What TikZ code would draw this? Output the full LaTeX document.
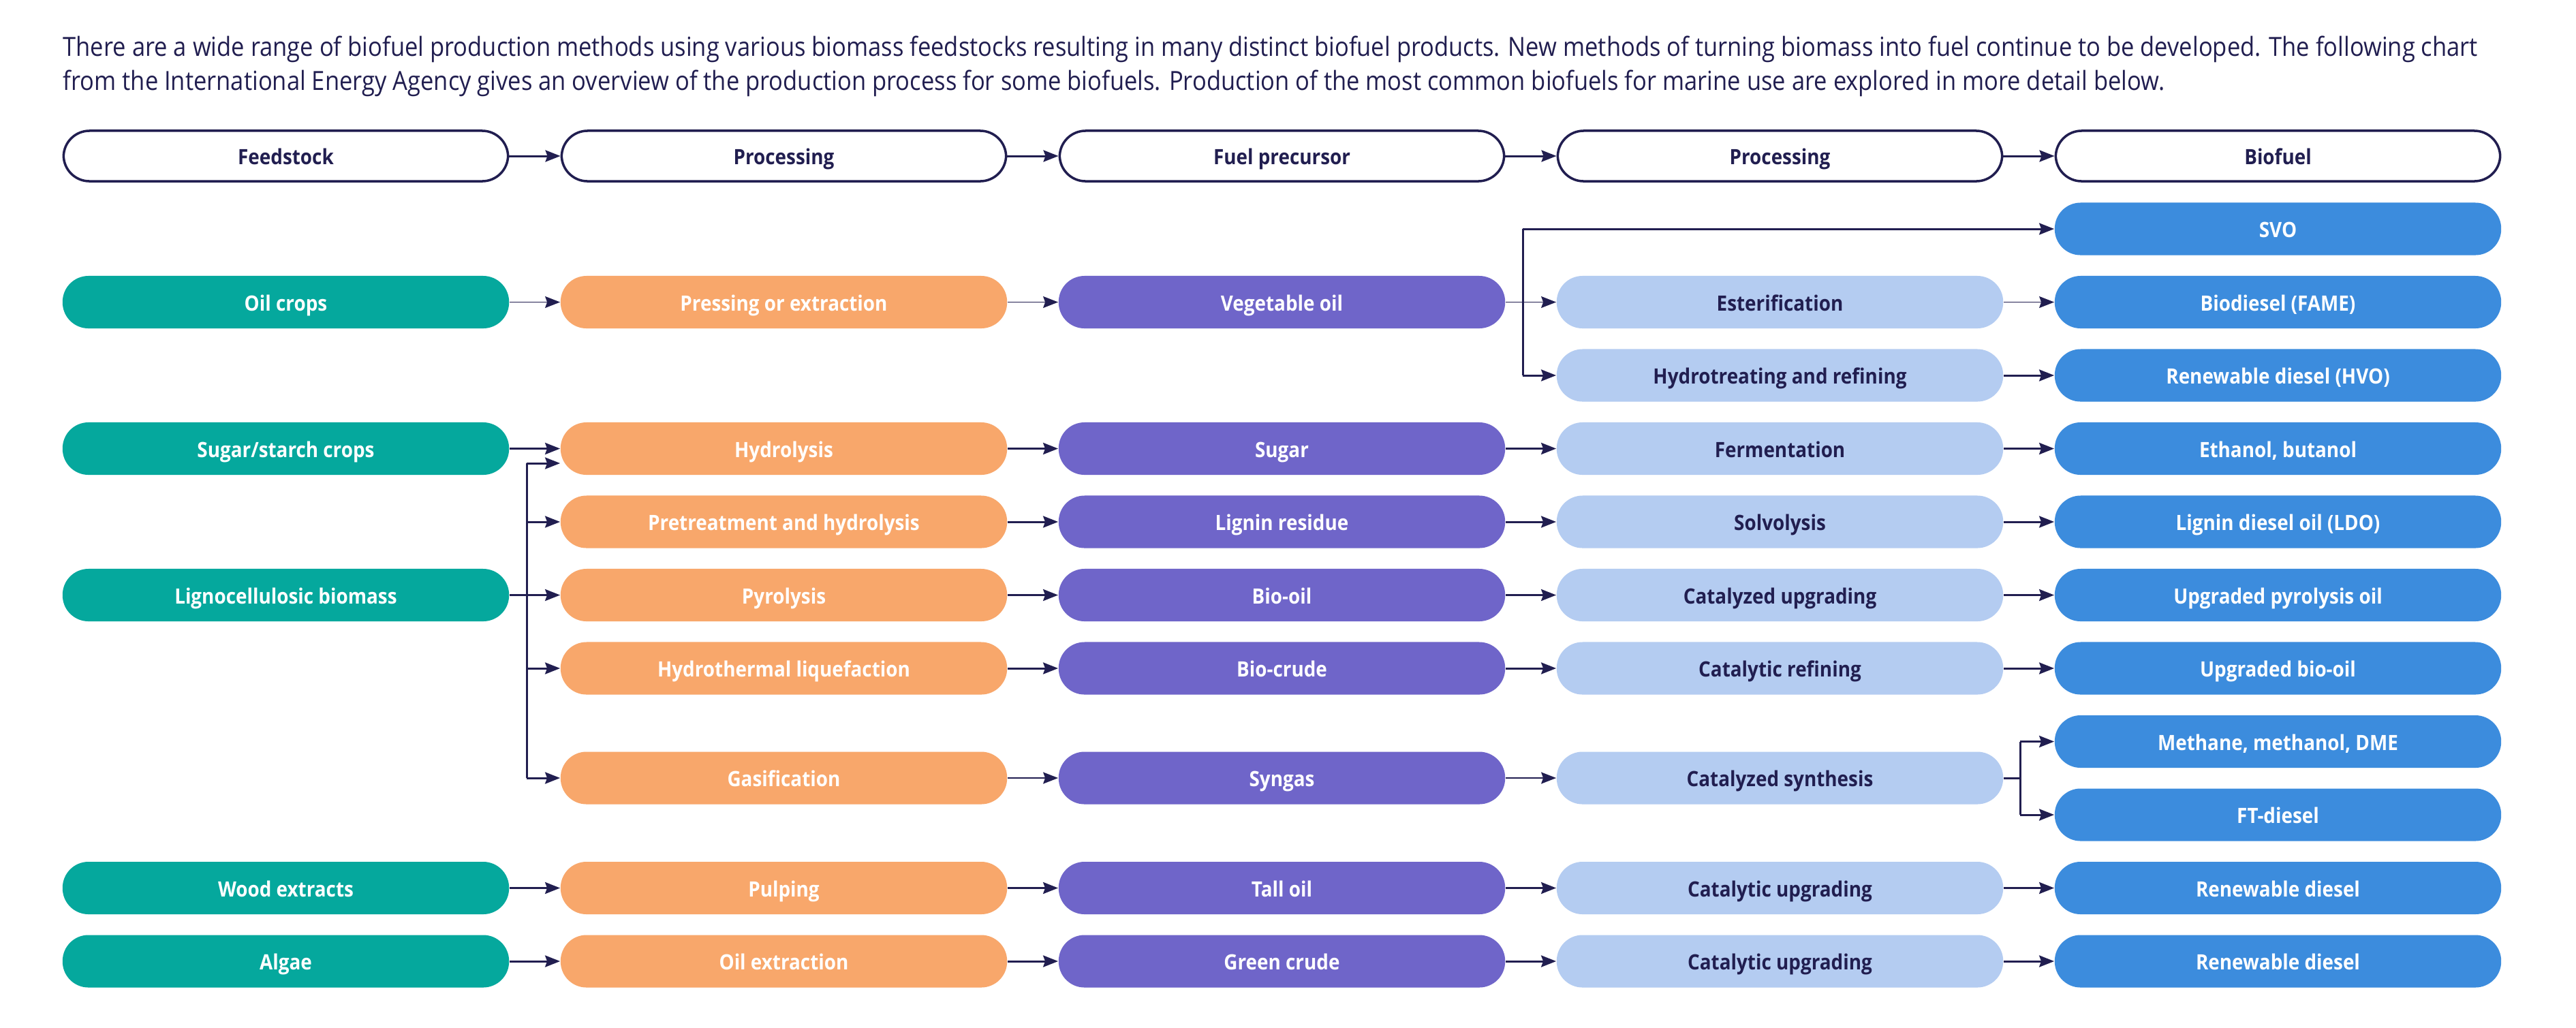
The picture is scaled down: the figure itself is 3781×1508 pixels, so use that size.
\documentclass[tikz,border=0pt]{standalone}
\usepackage{fontspec}
\setmainfont{Open Sans}[FakeStretch=0.9]
\newfontfamily\bodyfont{Open Sans}[FakeStretch=0.892]
\usetikzlibrary{arrows.meta}
\definecolor{navy}{HTML}{211E50}
\definecolor{cteal}{HTML}{05A89D}
\definecolor{corange}{HTML}{F8A76B}
\definecolor{cpurple}{HTML}{6F65C9}
\definecolor{clight}{HTML}{B4CCF1}
\definecolor{cblue}{HTML}{3C8CDD}
\tikzset{
  box/.style={rectangle, rounded corners=0.38cm, minimum width=6.55cm, minimum height=0.77cm,
    inner sep=0pt, text height=0.714em, text depth=0pt, font=\bfseries\fontsize{8.8}{10.5}\selectfont},
  hdr/.style={box, draw=navy, line width=1pt, fill=white, text=navy, minimum width=6.52cm, minimum height=0.74cm},
  feed/.style={box, fill=cteal, text=white},
  proc/.style={box, fill=corange, text=white},
  prec/.style={box, fill=cpurple, text=white},
  proc2/.style={box, fill=clight, text=navy},
  fuel/.style={box, fill=cblue, text=white},
  arr/.style={-{Stealth[length=0.22cm,width=0.17cm,inset=0.03cm]}, draw=navy, line width=0.85pt},
  thinarr/.style={arr, line width=0.45pt},
  plain/.style={draw=navy, line width=0.85pt},
}
\begin{document}
\begin{tikzpicture}[x=0.01cm,y=-0.01cm]
\useasboundingbox[fill=white] (0,0) rectangle (3781,1508);
\node[anchor=north west, inner sep=0pt, align=left, text=navy, font=\bodyfont\fontsize{11}{14.2}\selectfont] (intro) at (92,52)
{There are a wide range of biofuel production methods using various biomass feedstocks resulting in many distinct biofuel products. New methods of turning biomass into fuel continue to be developed. The following chart\\
from the International Energy Agency gives an overview of the production process for some biofuels. Production of the most common biofuels for marine use are explored in more detail below.};

% headers
\node[hdr] (h1) at (419.5,229) {Feedstock};
\node[hdr] (h2) at (1150.5,229) {Processing};
\node[hdr] (h3) at (1881.5,229) {Fuel precursor};
\node[hdr] (h4) at (2612.5,229) {Processing};
\node[hdr] (h5) at (3343.5,229) {Biofuel};

% column 1
\node[feed] (oil) at (419.5,443.5) {Oil crops};
\node[feed] (sug) at (419.5,658.5) {Sugar/starch crops};
\node[feed] (lig) at (419.5,873.5) {Lignocellulosic biomass};
\node[feed] (wood) at (419.5,1303.5) {Wood extracts};
\node[feed] (alg) at (419.5,1411) {Algae};

% column 2
\node[proc] (press) at (1150.5,443.5) {Pressing or extraction};
\node[proc] (hyd) at (1150.5,658.5) {Hydrolysis};
\node[proc] (pre) at (1150.5,766) {Pretreatment and hydrolysis};
\node[proc] (pyr) at (1150.5,873.5) {Pyrolysis};
\node[proc] (htl) at (1150.5,981) {Hydrothermal liquefaction};
\node[proc] (gas) at (1150.5,1142) {Gasification};
\node[proc] (pulp) at (1150.5,1303.5) {Pulping};
\node[proc] (oilx) at (1150.5,1411) {Oil extraction};

% column 3
\node[prec] (veg) at (1881.5,443.5) {Vegetable oil};
\node[prec] (sugar) at (1881.5,658.5) {Sugar};
\node[prec] (lres) at (1881.5,766) {Lignin residue};
\node[prec] (biooil) at (1881.5,873.5) {Bio-oil};
\node[prec] (biocrude) at (1881.5,981) {Bio-crude};
\node[prec] (syn) at (1881.5,1142) {Syngas};
\node[prec] (tall) at (1881.5,1303.5) {Tall oil};
\node[prec] (green) at (1881.5,1411) {Green crude};

% column 4
\node[proc2] (est) at (2612.5,443.5) {Esterification};
\node[proc2] (hydt) at (2612.5,551) {Hydrotreating and refining};
\node[proc2] (ferm) at (2612.5,658.5) {Fermentation};
\node[proc2] (solv) at (2612.5,766) {Solvolysis};
\node[proc2] (cup) at (2612.5,873.5) {Catalyzed upgrading};
\node[proc2] (cref) at (2612.5,981) {Catalytic refining};
\node[proc2] (csyn) at (2612.5,1142) {Catalyzed synthesis};
\node[proc2] (cupw) at (2612.5,1303.5) {Catalytic upgrading};
\node[proc2] (cupa) at (2612.5,1411) {Catalytic upgrading};

% column 5
\node[fuel] (svo) at (3343.5,336) {SVO};
\node[fuel] (fame) at (3343.5,443.5) {Biodiesel (FAME)};
\node[fuel] (hvo) at (3343.5,551) {Renewable diesel (HVO)};
\node[fuel] (eth) at (3343.5,658.5) {Ethanol, butanol};
\node[fuel] (ldo) at (3343.5,766) {Lignin diesel oil (LDO)};
\node[fuel] (upo) at (3343.5,873.5) {Upgraded pyrolysis oil};
\node[fuel] (ubo) at (3343.5,981) {Upgraded bio-oil};
\node[fuel] (meth) at (3343.5,1088.5) {Methane, methanol, DME};
\node[fuel] (ftd) at (3343.5,1196) {FT-diesel};
\node[fuel] (rdw) at (3343.5,1303.5) {Renewable diesel};
\node[fuel] (rda) at (3343.5,1411) {Renewable diesel};

% header arrows
\draw[arr] (h1) -- (h2);
\draw[arr] (h2) -- (h3);
\draw[arr] (h3) -- (h4);
\draw[arr] (h4) -- (h5);

% oil crops row
\draw[thinarr] (oil) -- (press);
\draw[thinarr] (press) -- (veg);
\draw[thinarr] (veg) -- (est);
\draw[thinarr] (est) -- (fame);
\coordinate (vt) at (2235,336);
\coordinate (vb) at (2235,551);
\draw[plain] (vt) -- (vb);
\draw[arr] (vt) -- (svo);
\draw[arr] (vb) -- (hydt);
\draw[arr] (hydt) -- (hvo);

% sugar row
\draw[arr] (sug) -- (hyd);
\draw[arr] (hyd) -- (sugar);
\draw[arr] (sugar) -- (ferm);
\draw[arr] (ferm) -- (eth);

% lignocellulosic branches
\coordinate (lt) at (773,680);
\coordinate (lb) at (773,1142);
\draw[plain] (lt) -- (lb);
\draw[arr] (lt) -- (hyd.west |- lt);
\draw[arr] (pre.west -| lt) -- (pre.west);
\draw[arr] (lig) -- (pyr);
\draw[arr] (htl.west -| lt) -- (htl.west);
\draw[arr] (lb) -- (gas.west);

\draw[arr] (pre) -- (lres);
\draw[arr] (lres) -- (solv);
\draw[arr] (solv) -- (ldo);
\draw[arr] (pyr) -- (biooil);
\draw[arr] (biooil) -- (cup);
\draw[arr] (cup) -- (upo);
\draw[arr] (htl) -- (biocrude);
\draw[arr] (biocrude) -- (cref);
\draw[arr] (cref) -- (ubo);

% gasification row
\draw[thinarr] (gas) -- (syn);
\draw[thinarr] (syn) -- (csyn);
\coordinate (ct) at (2965,1088.5);
\coordinate (cb) at (2965,1196);
\draw[plain] (csyn.east) -- (csyn.east -| ct);
\draw[plain] (ct) -- (cb);
\draw[arr] (ct) -- (meth);
\draw[arr] (cb) -- (ftd);

% wood and algae
\draw[arr] (wood) -- (pulp);
\draw[arr] (pulp) -- (tall);
\draw[arr] (tall) -- (cupw);
\draw[arr] (cupw) -- (rdw);
\draw[arr] (alg) -- (oilx);
\draw[arr] (oilx) -- (green);
\draw[arr] (green) -- (cupa);
\draw[arr] (cupa) -- (rda);
\end{tikzpicture}
\end{document}
